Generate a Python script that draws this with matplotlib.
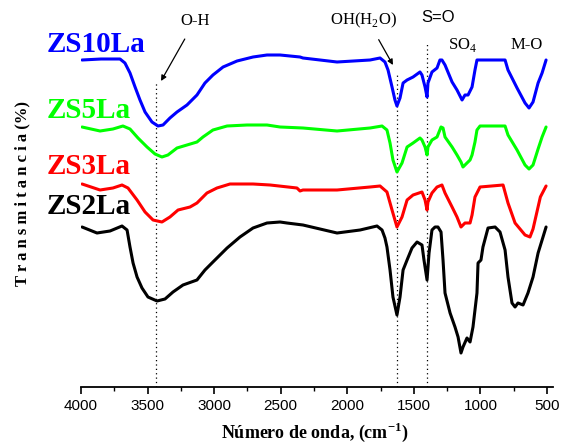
import matplotlib
matplotlib.use("Agg")
import matplotlib.pyplot as plt
from matplotlib.ticker import MultipleLocator

# wavenumber (cm-1) and transmittance (arbitrary units, curves offset) for each sample
zs10_w = [3992, 3850, 3707, 3670, 3632, 3594, 3557, 3519, 3467, 3422, 3384, 3332, 3279, 3204, 3129,
          3069, 3009, 2933, 2828, 2708, 2603, 2505, 2355, 2333, 2077, 1829, 1754, 1717, 1694, 1664,
          1642, 1627, 1604, 1581, 1551, 1506, 1454, 1439, 1416, 1401, 1394, 1364, 1326, 1304, 1289,
          1266, 1213, 1176, 1138, 1116, 1093, 1063, 1041, 1026, 988, 815, 793, 725, 665, 635,
          605, 567, 537, 507]
zs10_t = [327, 328, 328, 324, 314, 300, 287, 275, 265, 261, 262, 269, 275, 282, 292,
          304, 312, 320, 326, 330, 332, 332, 330, 329, 325, 327, 329, 325, 317, 300,
          287, 281, 289, 304, 307, 310, 315, 312, 300, 290, 304, 315, 319, 327, 327,
          322, 305, 297, 287, 292, 292, 300, 317, 327, 327, 327, 317, 299, 284, 279,
          285, 304, 314, 327]

zs5_w = [3992, 3857, 3760, 3685, 3632, 3572, 3504, 3444, 3392, 3347, 3279, 3204, 3129, 3084, 3009,
         2903, 2753, 2603, 2505, 2333, 2077, 1829, 1739, 1702, 1679, 1657, 1627, 1589, 1551, 1506,
         1454, 1439, 1416, 1401, 1394, 1364, 1326, 1296, 1281, 1266, 1213, 1176, 1146, 1131, 1101,
         1078, 1063, 1041, 1026, 1003, 815, 793, 725, 665, 635, 605, 567, 537, 507]
zs5_t = [260, 256, 258, 261, 258, 249, 240, 233, 230, 232, 239, 242, 245, 250, 257,
         261, 262, 262, 260, 259, 256, 259, 261, 257, 244, 227, 215, 224, 240, 244,
         249, 247, 240, 232, 240, 247, 250, 260, 259, 250, 240, 232, 225, 220, 224,
         227, 232, 245, 257, 261, 261, 252, 237, 222, 218, 222, 238, 250, 260]

zs3_w = [3992, 3857, 3760, 3692, 3647, 3579, 3519, 3459, 3392, 3332, 3271, 3181, 3129, 3054, 2979,
         2881, 2708, 2580, 2378, 2355, 2333, 2077, 1829, 1754, 1702, 1664, 1627, 1589, 1551, 1506,
         1439, 1416, 1401, 1394, 1364, 1326, 1289, 1266, 1213, 1176, 1146, 1116, 1078, 1063, 1041,
         1003, 830, 793, 740, 665, 628, 605, 550, 507]
zs3_t = [203, 197, 199, 202, 199, 187, 175, 167, 165, 170, 177, 180, 184, 194, 199,
         203, 203, 202, 199, 196, 197, 197, 200, 201, 195, 177, 160, 170, 187, 192,
         195, 187, 177, 185, 194, 200, 202, 194, 180, 170, 160, 164, 164, 172, 190,
         200, 202, 184, 164, 152, 150, 158, 190, 201]

zs2_w = [3992, 3880, 3782, 3692, 3654, 3632, 3609, 3579, 3542, 3497, 3429, 3369, 3309, 3234, 3129,
         3069, 3009, 2903, 2806, 2708, 2603, 2505, 2453, 2333, 2077, 1904, 1777, 1739, 1717, 1702,
         1679, 1657, 1627, 1604, 1581, 1551, 1514, 1476, 1439, 1424, 1401, 1386, 1364, 1341, 1319,
         1296, 1281, 1266, 1228, 1191, 1168, 1146, 1131, 1101, 1078, 1056, 1026, 1018, 996, 981,
         943, 890, 853, 815, 793, 763, 740, 718, 680, 643, 605, 567, 530, 507]
zs2_t = [160, 154, 156, 161, 157, 140, 124, 110, 99, 90, 86, 88, 95, 102, 107,
         117, 125, 139, 150, 159, 164, 165, 164, 162, 154, 157, 161, 157, 149, 140,
         117, 90, 72, 90, 117, 127, 139, 145, 142, 127, 107, 134, 157, 160, 160,
         155, 127, 94, 74, 60, 50, 34, 40, 49, 45, 60, 94, 124, 127, 140,
         159, 160, 155, 137, 110, 84, 80, 84, 82, 94, 110, 134, 150, 160]

bands = [3437, 1627, 1401]
band_tops = [304, 312, 344]

serif = "Liberation Serif"
sans = "Liberation Sans"
plt.rcParams["mathtext.fontset"] = "custom"
plt.rcParams["mathtext.rm"] = serif
plt.rcParams["mathtext.bf"] = serif + ":bold"

fig = plt.figure(figsize=(5.67, 4.43), dpi=100)
ax = fig.add_axes([81 / 567, 1 - 387 / 443, (553 - 81) / 567, 387 / 443])

for b, top in zip(bands, band_tops):
    ax.plot([b, b], [0, top], color="black", ls=(0, (1, 2.5)), lw=0.9, zorder=1)

line_kw = dict(lw=2.2, zorder=2, solid_joinstyle="round", solid_capstyle="round")
ax.plot(zs10_w, zs10_t, color="#0000ff", **line_kw)
ax.plot(zs5_w, zs5_t, color="#00ff00", **line_kw)
ax.plot(zs3_w, zs3_t, color="#ff0000", **line_kw)
ax.plot(zs2_w, zs2_t, color="black", **line_kw)

ax.set_xlim(4000, 455)
ax.set_ylim(0, 387)
ax.xaxis.set_major_locator(MultipleLocator(500))
ax.xaxis.set_minor_locator(MultipleLocator(250))
ax.set_yticks([])
for s in ["left", "right", "top"]:
    ax.spines[s].set_visible(False)
ax.spines["bottom"].set_linewidth(1.3)
ax.tick_params(axis="x", which="major", direction="out", length=5, width=1.2, pad=4)
ax.tick_params(axis="x", which="minor", direction="out", length=3, width=1.0)
for lab in ax.get_xticklabels():
    lab.set_fontfamily(sans)
    lab.set_fontsize(11)

# sample labels
label_kw = dict(fontsize=21, fontweight="bold", family=serif, va="center", ha="left")
ax.text(4255, 342, "ZS10La", color="#0000ff", **label_kw)
ax.text(4255, 277, "ZS5La", color="#00ff00", **label_kw)
ax.text(4255, 220, "ZS3La", color="#ff0000", **label_kw)
ax.text(4255, 180, "ZS2La", color="black", **label_kw)

# band annotations
ax.annotate("O-H", xy=(3399, 306), xytext=(3144, 366), ha="center", va="center",
            family=serif, fontsize=12,
            arrowprops=dict(arrowstyle="-|>", color="black", lw=0.9, shrinkA=6, shrinkB=0,
                            mutation_scale=8))
ax.annotate("OH(H$_2$O)", xy=(1657, 322), xytext=(1882, 367), ha="center", va="center",
            family=serif, fontsize=12,
            arrowprops=dict(arrowstyle="-|>", color="black", lw=0.9, shrinkA=6, shrinkB=0,
                            mutation_scale=8, relpos=(0.65, 0)))
ax.text(1319, 370, "S=O", family=sans, fontsize=12, ha="center", va="center")
ax.text(1138, 342, "SO$_4$", family=serif, fontsize=12, ha="center", va="center")
ax.text(650, 342, "M-O", family=serif, fontsize=12, ha="center", va="center")

fig.text(315 / 567, 1 - 432 / 443, "Número de onda, (cm$^{\\mathbf{-1}}$)", family=serif,
         fontsize=13, fontweight="bold", ha="center", va="center")
fig.text(22 / 567, 1 - 194 / 443, "T r a n s m i t a n c i a (%)", family=serif,
         fontsize=12, fontweight="bold", rotation=90, ha="center", va="center")

fig.savefig("out.png", dpi=100)
